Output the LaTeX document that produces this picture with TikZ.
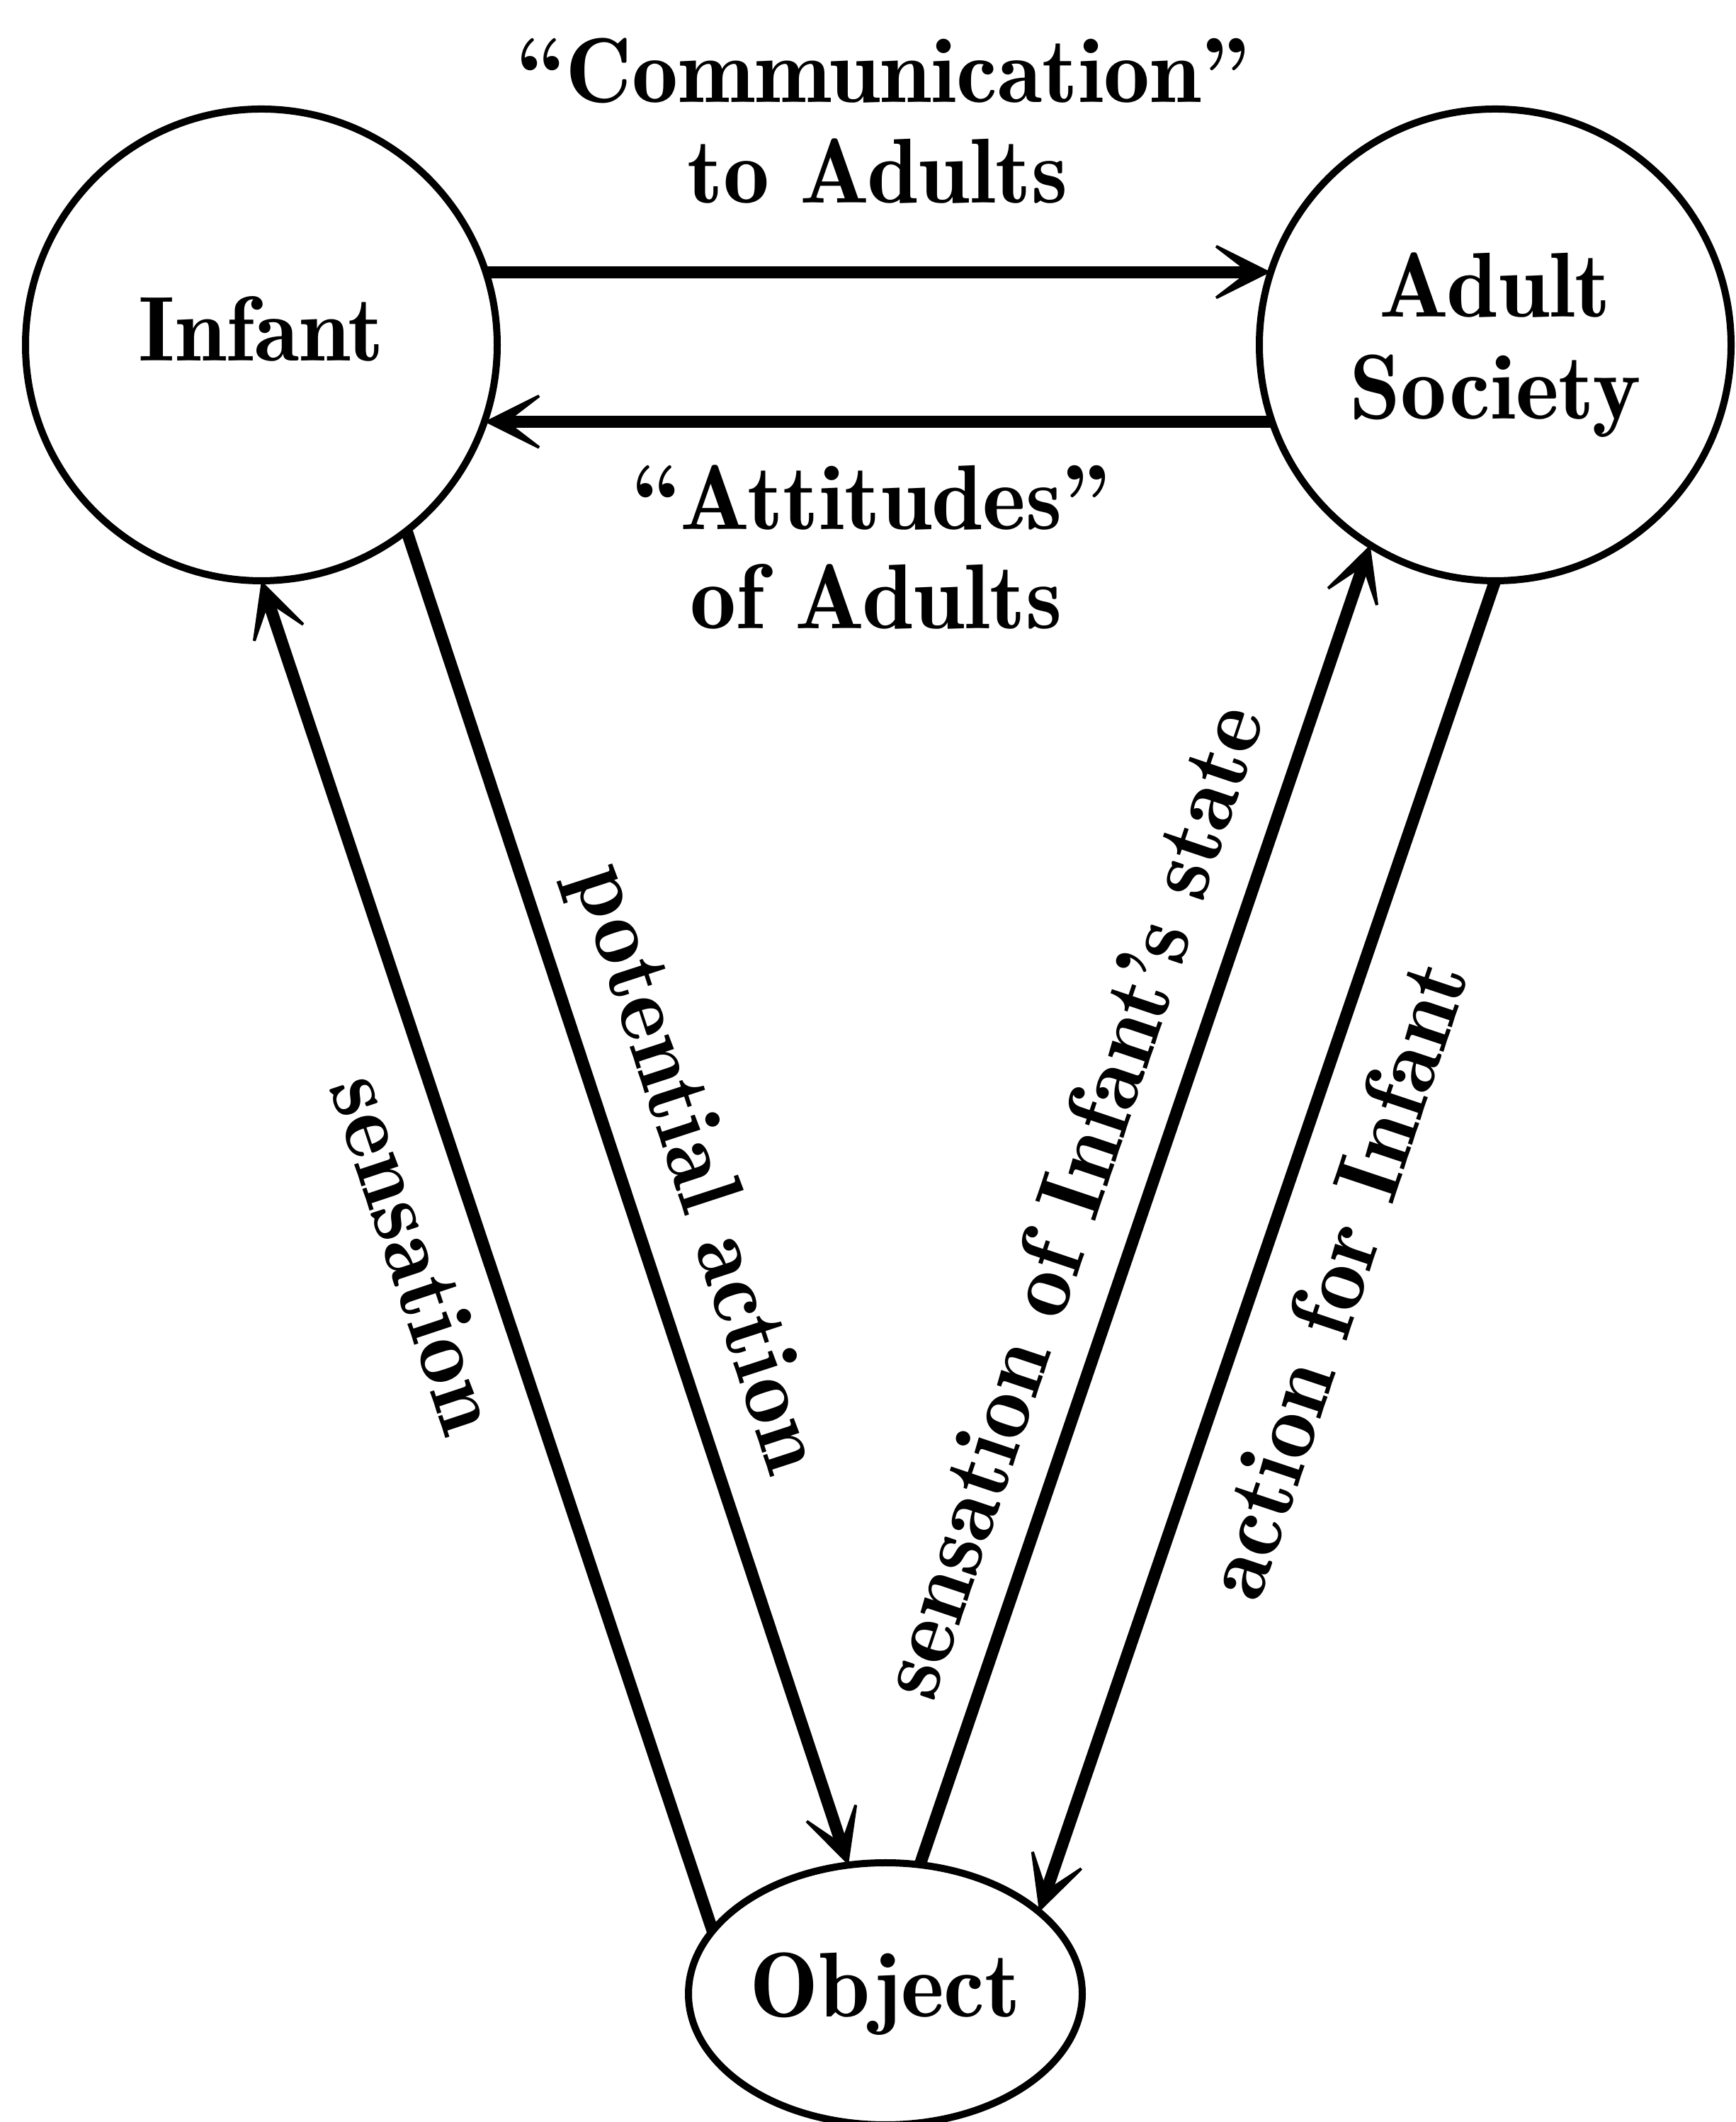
\documentclass[tikz,border=0pt]{standalone}
\usetikzlibrary{arrows.meta,shapes.geometric,calc}
\begin{document}
\begin{tikzpicture}[
  x=1cm, y=1cm,
  txt/.style={font=\fontsize{37}{41}\fontseries{b}\selectfont, inner sep=0pt},
  party/.style={circle, draw, line width=0.1cm, minimum size=6.66cm,
                inner sep=0pt, outer sep=0pt, align=center, txt},
  thing/.style={ellipse, draw, line width=0.1cm, minimum width=5.56cm,
                minimum height=3.7cm, inner sep=0pt, outer sep=0pt, txt},
  flow/.style={line width=0.17cm,
               -{Stealth[length=0.95cm,width=0.95cm,inset=0.62cm,line width=0.04cm]}},
  edgelab/.style={txt, anchor=base},
]
\useasboundingbox (0,0) rectangle (24.51,29.96);

% the three parties
\node[party, text depth=0.46cm] (inf) at (3.69,25.09) {Infant};
\node[party] (adu) at (21.11,25.09) {Adult\\Society};
\node[thing] (obj) at (12.50,1.81) {Object};

% exchanges between infant and adults
\draw[flow] (inf.18) -- (adu.162);
\draw[flow] (adu.-161) -- (inf.-19);

% links through the object
\draw[flow] (obj.160) -- (inf.-90);
\draw[flow] (inf.-52) -- (obj.106);
\draw[flow] (obj.75) -- (adu.-122);
\draw[flow] (adu.-90) -- (obj.28);

% labels of the horizontal exchanges
\node[edgelab] (comm) at (12.47,28.51) {“Communication”};
\node[edgelab] (toad) at (12.39,27.09) {to Adults};
\node[edgelab] (att)  at (12.30,22.48) {“Attitudes”};
\node[edgelab] (ofad) at (12.37,21.08) {of Adults};

% labels along the slanted links
\node[edgelab, rotate=-71.6] (lsens) at (5.47,12.13) {sensation};
\node[edgelab, rotate=-71.9] (lpot)  at (9.49,13.35) {potential action};
\node[edgelab, rotate=71.4]  (lsis)  at (15.52,12.87) {sensation of Infant’s state};
\node[edgelab, rotate=71.5]  (lafi)  at (19.26,11.76) {action for Infant};
\end{tikzpicture}
\end{document}
